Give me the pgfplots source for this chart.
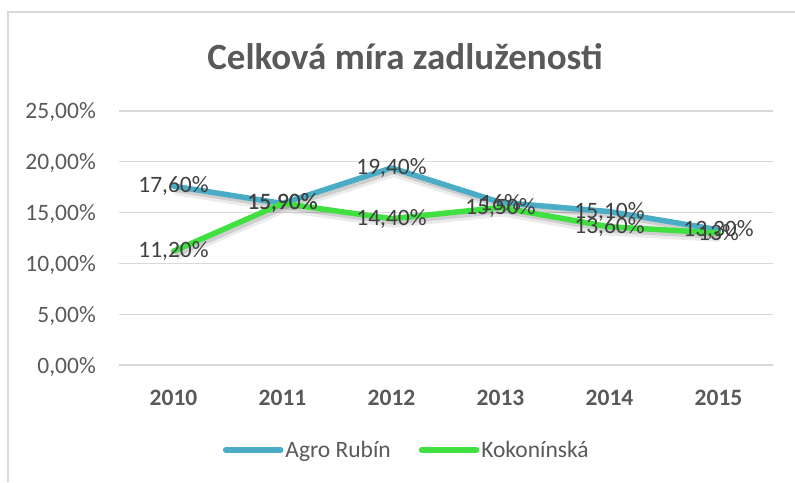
\documentclass[border=0pt]{standalone}
\usepackage{fontspec}
\setmainfont{Carlito}
\usepackage{pgfplots}
\pgfplotsset{compat=1.18}
\definecolor{agro}{RGB}{75,172,198}
\definecolor{koko}{RGB}{64,224,64}
\definecolor{lbl}{RGB}{64,64,64}
\definecolor{tck}{RGB}{89,89,89}
\definecolor{grd}{RGB}{217,217,217}
\pgfplotstableread{
x y l
0 17.6 17,60\%
1 15.9 15,90\%
2 19.4 19,40\%
3 16.0 16\%
4 15.1 15,10\%
5 13.3 13,30\%
}\agro
\pgfplotstableread{
x y l
0 11.2 11,20\%
1 15.9 15,90\%
2 14.4 14,40\%
3 15.5 15,50\%
4 13.6 13,60\%
5 13.0 13\%
}\koko
\newcommand\txt{\fontsize{23.5}{28}\selectfont}
\begin{document}
\begin{tikzpicture}[x=1pt,y=1pt]
\useasboundingbox (0,0) rectangle (795,482);
\draw[grd, line width=1.2pt] (8,0) -- (8,470) -- (795,470);
\node[tck, font=\fontsize{37}{44}\selectfont\bfseries] at (405,425) {Celková míra zadluženosti};
\begin{axis}[at={(119pt,117pt)}, anchor=south west, scale only axis,
  width=654pt, height=254pt,
  xmin=-0.5, xmax=5.5, ymin=0, ymax=25,
  xtick={0,...,5}, xticklabels={2010,2011,2012,2013,2014,2015},
  ytick={0,5,10,15,20,25},
  yticklabels={{0,00\%},{5,00\%},{10,00\%},{15,00\%},{20,00\%},{25,00\%}},
  axis line style={draw=none}, major tick length=0pt,
  ymajorgrids, grid style={grd, line width=1.3pt},
  clip=false,
  xticklabel style={anchor=base, inner sep=0pt, yshift=-40pt, font=\txt\bfseries, text=tck},
  yticklabel style={anchor=base east, inner sep=0pt, xshift=-23pt, yshift=-8pt, font=\txt, text=tck},
  legend columns=2,
  legend style={at={(0.44,-0.335)}, anchor=center, draw=none, fill=none,
    font=\txt, text=tck, nodes={inner sep=2pt},
    /tikz/every even column/.append style={column sep=26pt}},
  legend image code/.code={\draw[#1, line cap=round] (0pt,0pt) -- (55pt,0pt);},
]
\addplot[forget plot, black, opacity=0.08, line width=10pt, line join=round, xshift=2pt, yshift=-4pt] table[x=x,y=y] {\agro};
\addplot[forget plot, black, opacity=0.08, line width=10pt, line join=round, xshift=2pt, yshift=-4pt] table[x=x,y=y] {\koko};
\addplot[forget plot, black, opacity=0.12, line width=6pt, line join=round, xshift=2pt, yshift=-3pt] table[x=x,y=y] {\agro};
\addplot[forget plot, black, opacity=0.12, line width=6pt, line join=round, xshift=2pt, yshift=-3pt] table[x=x,y=y] {\koko};
\addplot[agro, line width=5.5pt, line join=round, line cap=round] table[x=x,y=y] {\agro};
\addlegendentry{Agro Rubín}
\addplot[koko, line width=5.5pt, line join=round, line cap=round] table[x=x,y=y] {\koko};
\addlegendentry{Kokonínská}
\addplot[forget plot, draw=none, nodes near coords, point meta=explicit symbolic,
  nodes near coords style={anchor=center, inner sep=0pt, font=\txt, text=lbl}]
  table[x=x,y=y,meta=l] {\agro};
\addplot[forget plot, draw=none, nodes near coords, point meta=explicit symbolic,
  nodes near coords style={anchor=center, inner sep=0pt, font=\txt, text=lbl}]
  table[x=x,y=y,meta=l] {\koko};
\end{axis}
\end{tikzpicture}
\end{document}
